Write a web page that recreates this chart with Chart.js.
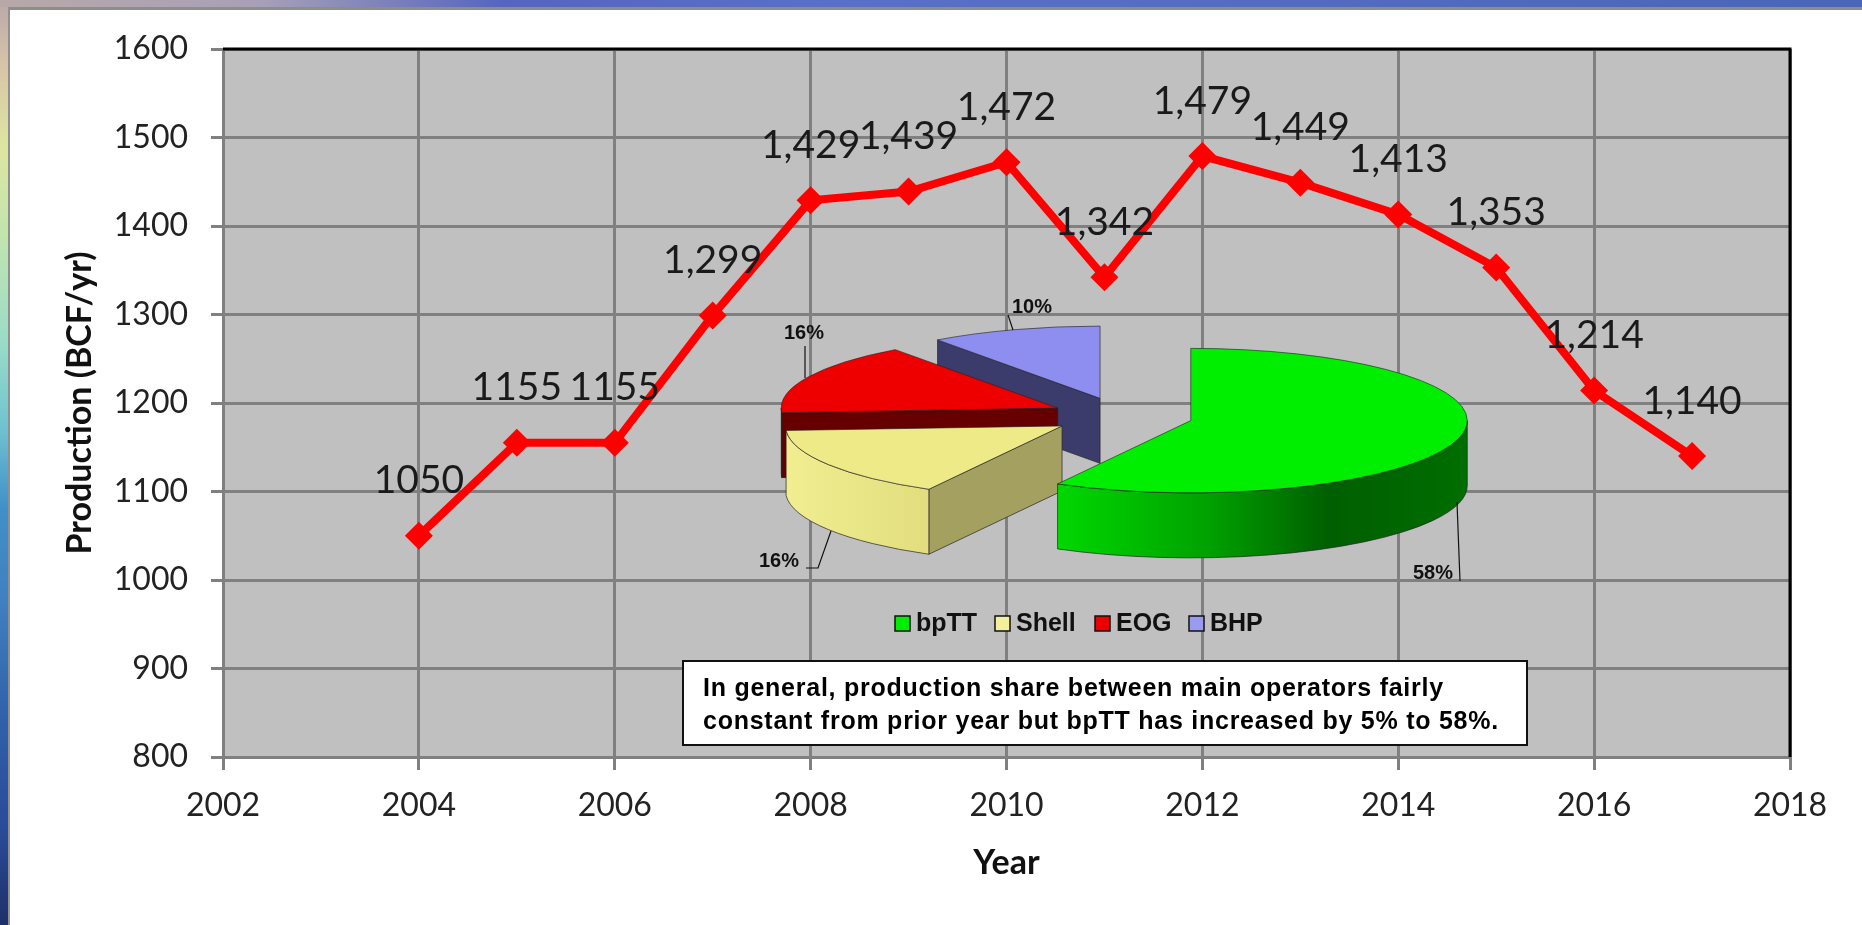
<!DOCTYPE html>
<html>
<head>
<meta charset="utf-8">
<title>Production (BCF/yr)</title>
<script src="https://cdn.jsdelivr.net/npm/chart.js@4"></script>
<style>
    html, body { margin: 0; padding: 0; width: 1862px; height: 925px; overflow: hidden; background: #fff; }
    #left-strip { position: absolute; left: 0; top: 0; width: 8px; height: 925px;
        background: linear-gradient(to bottom, #b8a8a8 0%, #d8c4a8 7%, #dde6a0 16%, #c0e4b0 26%, #9adcc8 37%, #70c4d0 46%, #4090c8 55%, #4080c0 65%, #3060a8 78%, #2a4a98 90%, #1e3068 100%); }
    #top-strip { position: absolute; left: 0; top: 0; width: 1862px; height: 7px;
        background: linear-gradient(to right, #b8a8a8 0%, #a8a0b8 14%, #5565c0 27%, #5a70c8 45%, #4a66b8 100%); }
    #panel { position: absolute; left: 8px; top: 7px; width: 1854px; height: 918px; background: #fff;
        box-sizing: border-box; border-left: 2px solid #909090; border-top: 3px solid #8a9088; }
    canvas { position: absolute; left: 0; top: 0; }
</style>
</head>
<body>
<div id="left-strip"></div>
<div id="top-strip"></div>
<div id="panel"></div>
<canvas id="line-chart" width="1862" height="925"></canvas>
<canvas id="pie-chart" width="1862" height="925"></canvas>
<script>
// Line chart data
const years = [2004, 2005, 2006, 2007, 2008, 2009, 2010, 2011, 2012, 2013, 2014, 2015, 2016, 2017];
const production = [1050, 1155, 1155, 1299, 1429, 1439, 1472, 1342, 1479, 1449, 1413, 1353, 1214, 1140];
const pointLabels = ['1050', '1155', '1155', '1,299', '1,429', '1,439', '1,472', '1,342', '1,479', '1,449', '1,413', '1,353', '1,214', '1,140'];

// Pie chart data
const operators = ['bpTT', 'Shell', 'EOG', 'BHP'];
const shares = [58, 16, 16, 10];

const noteLines = [
    'In general, production share between main operators fairly',
    'constant from prior year but bpTT has increased by 5% to 58%.'
];

// Pie colours
const topColors = ['#00ee00', '#eeea88', '#ee0000', '#8e8ef0'];
const swatchColors = ['#00ee00', '#f2f09a', '#ee0000', '#9a9af0'];
const cutColors = ['#006000', '#a3a060', '#660000', '#3c3c6c'];
const wallStops = [
    [[0, '#00d800'], [0.375, '#00a000'], [0.66, '#005f00'], [1, '#006e00']],
    [[0, '#f0ee90'], [1, '#e2de80']],
    [[0, '#660000'], [1, '#660000']],
    [[0, '#3c3c6c'], [1, '#3c3c6c']]
];

const PIE_SQUASH = 0.2613;
const PIE_DEPTH = 65;
const PIE_EXPLODE = 71;
const LABEL_FONT = 'Lato, sans-serif';
const BOLD_FONT = '"Liberation Sans", Arial, sans-serif';

// grey plot area, the black top and right edge, value labels
const plotFrame = {
    id: 'plotFrame',
    beforeDraw(chart) {
        const { ctx, chartArea: a } = chart;
        ctx.save();
        ctx.fillStyle = '#c0c0c0';
        ctx.fillRect(a.left, a.top, a.width, a.height);
        ctx.restore();
    },
    beforeDatasetsDraw(chart) {
        const { ctx, chartArea: a } = chart;
        ctx.save();
        ctx.strokeStyle = '#000';
        ctx.lineWidth = 3;
        ctx.beginPath();
        ctx.moveTo(a.left, a.top);
        ctx.lineTo(a.right, a.top);
        ctx.lineTo(a.right, a.bottom);
        ctx.stroke();
        ctx.restore();
    },
    afterDatasetsDraw(chart) {
        const { ctx } = chart;
        const points = chart.getDatasetMeta(0).data;
        ctx.save();
        ctx.font = '39px ' + LABEL_FONT;
        ctx.fillStyle = '#1a1a1a';
        ctx.textAlign = 'center';
        ctx.textBaseline = 'middle';
        points.forEach((pt, i) => {
            ctx.fillText(pointLabels[i], pt.x, pt.y - 55);
        });
        ctx.restore();
    }
};

new Chart(document.getElementById('line-chart'), {
    type: 'line',
    data: {
        datasets: [{
            data: years.map((y, i) => ({ x: y, y: production[i] })),
            borderColor: '#ff0000',
            backgroundColor: '#ff0000',
            borderWidth: 8,
            tension: 0,
            pointStyle: 'rectRot',
            pointRadius: 14,
            pointBorderWidth: 0
        }]
    },
    options: {
        responsive: false,
        animation: false,
        layout: { padding: { top: 49, right: 72 } },
        plugins: { legend: { display: false }, tooltip: { enabled: false } },
        scales: {
            x: {
                type: 'linear',
                min: 2002,
                max: 2018,
                afterFit: scale => { scale.height = 168; },
                grid: { color: '#808080', lineWidth: 3, tickLength: 13, tickColor: '#808080' },
                border: { color: '#808080', width: 3 },
                ticks: {
                    stepSize: 2,
                    padding: 16,
                    maxRotation: 0,
                    color: '#222',
                    font: { family: LABEL_FONT, size: 32 },
                    callback: v => String(v)
                },
                title: {
                    display: true,
                    text: 'Year',
                    color: '#111',
                    font: { family: LABEL_FONT, size: 34, weight: 'bold' },
                    padding: { top: 0, bottom: 42 }
                }
            },
            y: {
                min: 800,
                max: 1600,
                afterFit: scale => { scale.width = 223; },
                grid: { color: '#808080', lineWidth: 3, tickLength: 12, tickColor: '#808080' },
                border: { color: '#808080', width: 3 },
                ticks: {
                    stepSize: 100,
                    padding: 23,
                    color: '#222',
                    font: { family: LABEL_FONT, size: 32 },
                    callback: v => String(v)
                },
                title: {
                    display: true,
                    text: 'Production (BCF/yr)',
                    color: '#111',
                    font: { family: LABEL_FONT, size: 34, weight: 'bold' },
                    padding: { top: 60, bottom: 0 }
                }
            }
        }
    },
    plugins: [plotFrame]
});

// one slice's side faces, drawn flat on the page below the squashed top
function drawSliceSides(ctx, arc, index) {
    const { startAngle: s, endAngle: e, x, y, outerRadius: r } = arc;
    const mid = (s + e) / 2;
    const cx = x + Math.cos(mid) * PIE_EXPLODE;
    const cy = y + Math.sin(mid) * PIE_EXPLODE * PIE_SQUASH;
    const rimX = a => cx + Math.cos(a) * r;
    const rimY = a => cy + Math.sin(a) * r * PIE_SQUASH;

    ctx.strokeStyle = '#222';
    ctx.lineWidth = 0.7;

    const cutFace = a => {
        ctx.beginPath();
        ctx.moveTo(cx, cy);
        ctx.lineTo(rimX(a), rimY(a));
        ctx.lineTo(rimX(a), rimY(a) + PIE_DEPTH);
        ctx.lineTo(cx, cy + PIE_DEPTH);
        ctx.closePath();
        ctx.fillStyle = cutColors[index];
        ctx.fill();
        ctx.stroke();
    };
    if (Math.cos(s) < -0.001) cutFace(s);
    if (Math.cos(e) > 0.001) cutFace(e);

    // outer wall only exists on the front half of the rim
    const lo = Math.max(s, 0);
    const hi = Math.min(e, Math.PI);
    if (hi > lo) {
        const left = rimX(hi);
        const right = rimX(lo);
        const grad = ctx.createLinearGradient(left, 0, right, 0);
        wallStops[index].forEach(st => grad.addColorStop(st[0], st[1]));
        ctx.beginPath();
        ctx.ellipse(cx, cy, r, r * PIE_SQUASH, 0, lo, hi);
        ctx.ellipse(cx, cy + PIE_DEPTH, r, r * PIE_SQUASH, 0, hi, lo, true);
        ctx.closePath();
        ctx.fillStyle = grad;
        ctx.fill();
        ctx.stroke();
    }
}

// the arc option "offset" also grows the radius, so the slices are moved here instead
const tiltedPie = {
    id: 'tiltedPie',
    beforeDatasetDraw(chart) {
        const { ctx } = chart;
        const arcs = chart.getDatasetMeta(0).data;
        ctx.save();
        // back to front
        [3, 2, 1, 0].forEach(i => drawSliceSides(ctx, arcs[i], i));
        ctx.translate(arcs[0].x, arcs[0].y);
        ctx.scale(1, PIE_SQUASH);
        ctx.translate(-arcs[0].x, -arcs[0].y);
        arcs.forEach(arc => {
            const mid = (arc.startAngle + arc.endAngle) / 2;
            ctx.save();
            ctx.translate(Math.cos(mid) * PIE_EXPLODE, Math.sin(mid) * PIE_EXPLODE);
            arc.draw(ctx);
            ctx.restore();
        });
        ctx.restore();
        return false;
    }
};

// percent labels, legend and the note box
const pieNotes = {
    id: 'pieNotes',
    afterDraw(chart) {
        const { ctx } = chart;
        ctx.save();

        const leaders = [
            [[1460, 581], [1457, 502]],
            [[806, 568], [818, 568], [831, 531]],
            [[805, 346], [805, 378]],
            [[1008, 315], [1013, 330]]
        ];
        const labelSpots = [[1433, 573], [779, 561], [804, 333], [1032, 307]];
        ctx.strokeStyle = '#111';
        ctx.lineWidth = 1.2;
        leaders.forEach(path => {
            ctx.beginPath();
            path.forEach((p, i) => (i ? ctx.lineTo(p[0], p[1]) : ctx.moveTo(p[0], p[1])));
            ctx.stroke();
        });
        ctx.font = 'bold 20px ' + BOLD_FONT;
        ctx.fillStyle = '#111';
        ctx.textAlign = 'center';
        ctx.textBaseline = 'middle';
        shares.forEach((v, i) => {
            ctx.fillText(v + '%', labelSpots[i][0], labelSpots[i][1]);
        });

        // legend
        const legendStarts = [895, 995, 1095, 1189];
        ctx.font = 'bold 25px ' + BOLD_FONT;
        ctx.textAlign = 'left';
        operators.forEach((name, i) => {
            const lx = legendStarts[i];
            ctx.fillStyle = swatchColors[i];
            ctx.strokeStyle = '#111';
            ctx.lineWidth = 1.5;
            ctx.fillRect(lx, 616, 15, 15);
            ctx.strokeRect(lx, 616, 15, 15);
            ctx.fillStyle = '#111';
            ctx.fillText(name, lx + 21, 624);
        });

        // note box
        ctx.fillStyle = '#fff';
        ctx.fillRect(683, 661, 844, 84);
        ctx.strokeStyle = '#111';
        ctx.lineWidth = 2;
        ctx.strokeRect(683, 661, 844, 84);
        ctx.fillStyle = '#000';
        ctx.font = 'bold 25px ' + BOLD_FONT;
        ctx.letterSpacing = '0.75px';
        ctx.textBaseline = 'alphabetic';
        ctx.fillText(noteLines[0], 703, 696);
        ctx.fillText(noteLines[1], 703, 729);
        ctx.restore();
    }
};

new Chart(document.getElementById('pie-chart'), {
    type: 'pie',
    data: {
        labels: operators,
        datasets: [{
            data: shares,
            backgroundColor: topColors,
            borderColor: '#222',
            borderWidth: 1,
            radius: 276.5
        }]
    },
    options: {
        responsive: false,
        animation: false,
        // puts the pie centre at x 1122, y 416 on the page
        layout: { padding: { left: 382, bottom: 93 } },
        plugins: { legend: { display: false }, tooltip: { enabled: false } }
    },
    plugins: [tiltedPie, pieNotes]
});
</script>
</body>
</html>
